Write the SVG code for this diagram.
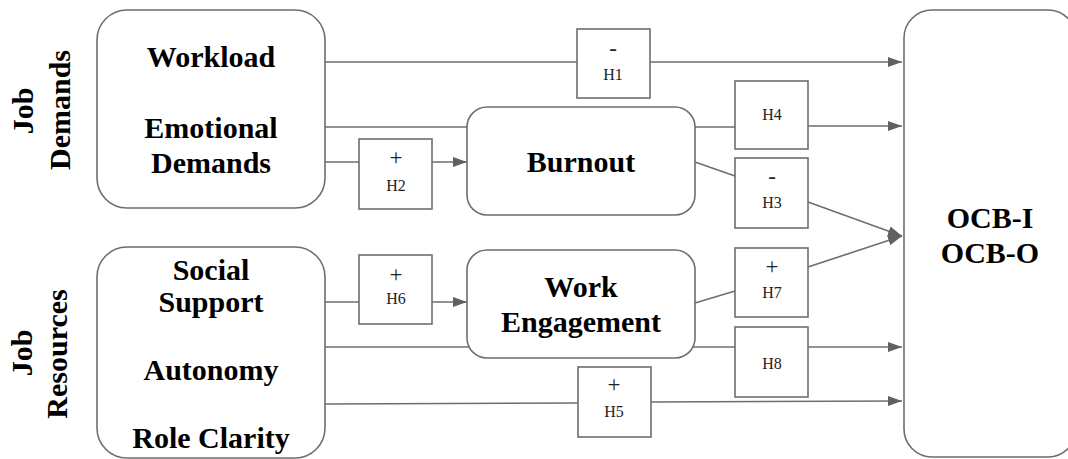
<svg xmlns="http://www.w3.org/2000/svg" width="1068" height="459" viewBox="0 0 1068 459">
  <style>
    .box { fill: #ffffff; stroke: #6e6e6e; stroke-width: 1.6; }
    .hyp { fill: #ffffff; stroke: #6e6e6e; stroke-width: 1.6; }
    .big { font-family: "Liberation Serif", "Times New Roman", serif; font-weight: bold; font-size: 30px; fill: #000000; text-anchor: middle; }
    .hl { font-family: "Liberation Serif", "Times New Roman", serif; font-size: 16px; fill: #222222; text-anchor: middle; }
    .sign { font-family: "Liberation Serif", "Times New Roman", serif; font-size: 23px; fill: #222222; text-anchor: middle; }
    .edge { fill: none; stroke: #6e6e6e; stroke-width: 1.6; }
  </style>
  <defs>
    <marker id="arrow" viewBox="0 0 14 10" refX="14" refY="5" markerWidth="14" markerHeight="10" markerUnits="userSpaceOnUse" orient="auto">
      <path d="M0,0 L14,5 L0,10 Z" fill="#606060"/>
    </marker>
  </defs>

  <rect width="1068" height="459" fill="#ffffff"/>

  <!-- side labels -->
  <g id="label-demands">
    <text class="big" transform="translate(33,111) rotate(-90)">Job</text>
    <text class="big" transform="translate(70,110) rotate(-90)">Demands</text>
  </g>
  <g id="label-resources">
    <text class="big" transform="translate(32,353) rotate(-90)">Job</text>
    <text class="big" transform="translate(67,354) rotate(-90)">Resources</text>
  </g>

  <!-- connectors (drawn beneath the nodes) -->
  <g id="connectors">
    <!-- Workload -> OCB via H1 -->
    <line class="edge" x1="325" y1="62" x2="577" y2="62"/>
    <line class="edge" x1="650" y1="62" x2="902" y2="62" marker-end="url(#arrow)"/>
    <!-- Emotional Demands -> OCB via H4 (passes behind Burnout) -->
    <line class="edge" x1="325" y1="127" x2="735" y2="127"/>
    <line class="edge" x1="808" y1="126" x2="902" y2="126" marker-end="url(#arrow)"/>
    <!-- Emotional Demands -> Burnout via H2 -->
    <line class="edge" x1="325" y1="162" x2="359" y2="162"/>
    <line class="edge" x1="432" y1="162" x2="467" y2="162" marker-end="url(#arrow)"/>
    <!-- Burnout -> OCB via H3 -->
    <line class="edge" x1="695" y1="162" x2="735" y2="176"/>
    <line class="edge" x1="808" y1="202" x2="902" y2="236" marker-end="url(#arrow)"/>
    <!-- Work Engagement -> OCB via H7 -->
    <line class="edge" x1="695" y1="303" x2="735" y2="291"/>
    <line class="edge" x1="808" y1="267" x2="902" y2="236" marker-end="url(#arrow)"/>
    <!-- Social Support -> Work Engagement via H6 -->
    <line class="edge" x1="325" y1="302" x2="359" y2="302"/>
    <line class="edge" x1="432" y1="302" x2="467" y2="302" marker-end="url(#arrow)"/>
    <!-- Job Resources -> OCB via H8 (passes behind Work Engagement) -->
    <line class="edge" x1="325" y1="347" x2="735" y2="347"/>
    <line class="edge" x1="808" y1="347" x2="902" y2="347" marker-end="url(#arrow)"/>
    <!-- Job Resources -> OCB via H5 -->
    <line class="edge" x1="325" y1="404" x2="578" y2="403"/>
    <line class="edge" x1="651" y1="402" x2="902" y2="401" marker-end="url(#arrow)"/>
  </g>

  <!-- job demands -->
  <g id="job-demands">
    <rect class="box" x="97" y="10" width="228" height="198" rx="30"/>
    <text class="big" x="211" y="67">Workload</text>
    <text class="big" x="211" y="138">Emotional</text>
    <text class="big" x="211" y="173">Demands</text>
  </g>

  <!-- job resources -->
  <g id="job-resources">
    <rect class="box" x="97" y="247" width="228" height="211" rx="30"/>
    <text class="big" x="211" y="280">Social</text>
    <text class="big" x="211" y="312">Support</text>
    <text class="big" x="211" y="380">Autonomy</text>
    <text class="big" x="211" y="448">Role Clarity</text>
  </g>

  <!-- mediators -->
  <g id="burnout">
    <rect class="box" x="467" y="107" width="228" height="108" rx="20"/>
    <text class="big" x="581" y="172">Burnout</text>
  </g>
  <g id="work-engagement">
    <rect class="box" x="467" y="250" width="228" height="108" rx="20"/>
    <text class="big" x="581" y="297">Work</text>
    <text class="big" x="581" y="332">Engagement</text>
  </g>

  <!-- outcome -->
  <g id="ocb">
    <rect class="box" x="904" y="10" width="172" height="447" rx="28"/>
    <text class="big" x="990" y="228">OCB-I</text>
    <text class="big" x="990" y="263">OCB-O</text>
  </g>

  <!-- hypothesis boxes -->
  <g id="h1">
    <rect class="hyp" x="577" y="29" width="73" height="69"/>
    <text class="sign" x="613" y="56">-</text>
    <text class="hl" x="613" y="80">H1</text>
  </g>
  <g id="h2">
    <rect class="hyp" x="359" y="139" width="73" height="70"/>
    <text class="sign" x="396" y="165">+</text>
    <text class="hl" x="396" y="191">H2</text>
  </g>
  <g id="h3">
    <rect class="hyp" x="735" y="158" width="73" height="70"/>
    <text class="sign" x="772" y="184">-</text>
    <text class="hl" x="772" y="208">H3</text>
  </g>
  <g id="h4">
    <rect class="hyp" x="735" y="81" width="73" height="68"/>
    <text class="hl" x="772" y="120">H4</text>
  </g>
  <g id="h5">
    <rect class="hyp" x="578" y="367" width="73" height="70"/>
    <text class="sign" x="614" y="392">+</text>
    <text class="hl" x="614" y="417">H5</text>
  </g>
  <g id="h6">
    <rect class="hyp" x="359" y="255" width="73" height="69"/>
    <text class="sign" x="396" y="282">+</text>
    <text class="hl" x="396" y="304">H6</text>
  </g>
  <g id="h7">
    <rect class="hyp" x="735" y="248" width="73" height="69"/>
    <text class="sign" x="772" y="274">+</text>
    <text class="hl" x="772" y="298">H7</text>
  </g>
  <g id="h8">
    <rect class="hyp" x="735" y="327" width="73" height="70"/>
    <text class="hl" x="772" y="369">H8</text>
  </g>
</svg>
